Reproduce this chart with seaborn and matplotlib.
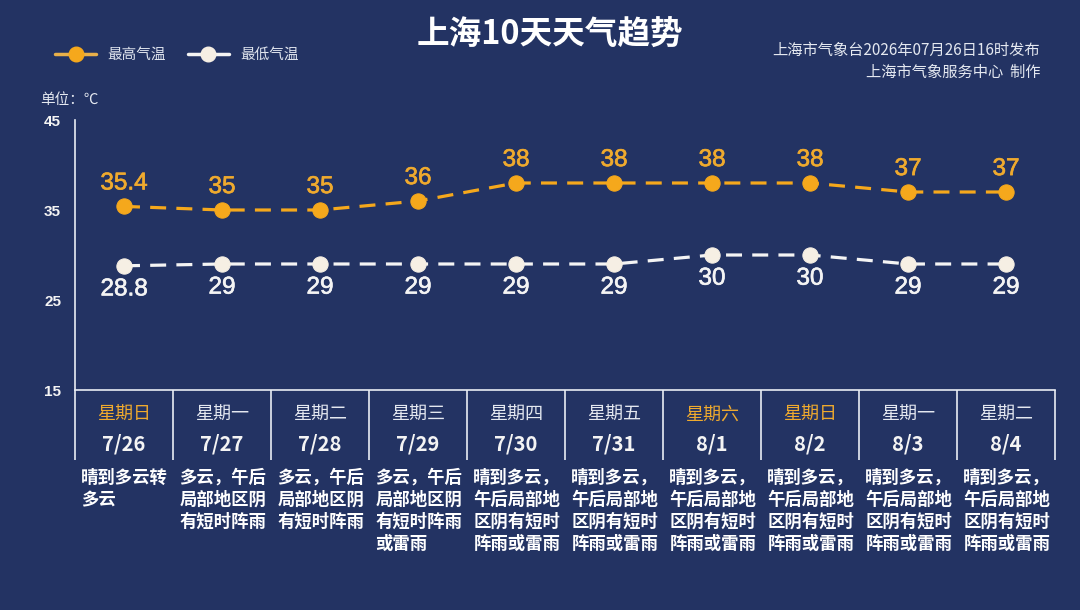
import matplotlib
matplotlib.use("Agg")
import matplotlib.pyplot as plt
import matplotlib.patheffects as pe
from matplotlib.lines import Line2D
import seaborn as sns
import pandas as pd

# ---- data ----
dates = ["7/26", "7/27", "7/28", "7/29", "7/30", "7/31", "8/1", "8/2", "8/3", "8/4"]
weekdays = ["星期日", "星期一", "星期二", "星期三", "星期四", "星期五", "星期六", "星期日", "星期一", "星期二"]
high_temps = [35.4, 35, 35, 36, 38, 38, 38, 38, 37, 37]
low_temps = [28.8, 29, 29, 29, 29, 29, 30, 30, 29, 29]
weather = [
    "晴到多云转多云",
    "多云，午后局部地区阴有短时阵雨",
    "多云，午后局部地区阴有短时阵雨",
    "多云，午后局部地区阴有短时阵雨或雷雨",
    "晴到多云，午后局部地区阴有短时阵雨或雷雨",
    "晴到多云，午后局部地区阴有短时阵雨或雷雨",
    "晴到多云，午后局部地区阴有短时阵雨或雷雨",
    "晴到多云，午后局部地区阴有短时阵雨或雷雨",
    "晴到多云，午后局部地区阴有短时阵雨或雷雨",
    "晴到多云，午后局部地区阴有短时阵雨或雷雨",
]
y_ticks = [15, 25, 35, 45]
title = "上海10天天气趋势"
source_lines = ["上海市气象台2026年07月26日16时发布", "上海市气象服务中心  制作"]
unit_label = "单位：℃"
legend_labels = ["最高气温", "最低气温"]

# ---- style ----
BG = "#233363"
ORANGE = "#F5A81C"
ORANGE_TXT = "#EFAA2E"
CREAM = "#F6EFE4"
WHITE = "#F4F4F4"
LINEC = "#E8ECF4"

sns.set_theme(style="white")
plt.rcParams["font.family"] = ["Noto Sans CJK SC", "DejaVu Sans"]
plt.rcParams["axes.unicode_minus"] = False

fig = plt.figure(figsize=(10.8, 6.1), dpi=100, facecolor=BG)
ax = fig.add_axes([75 / 1080, 1 - 390 / 610, 980 / 1080, 270 / 610])
ax.set_facecolor(BG)

df = pd.DataFrame({"idx": range(len(dates)), "high": high_temps, "low": low_temps})

sns.lineplot(data=df, x="idx", y="high", ax=ax, color=ORANGE, linewidth=2.3,
             marker="o", markersize=11, markerfacecolor=ORANGE, markeredgecolor=ORANGE,
             zorder=3)
sns.lineplot(data=df, x="idx", y="low", ax=ax, color=WHITE, linewidth=2.3,
             marker="o", markersize=11, markerfacecolor=CREAM, markeredgecolor=CREAM,
             zorder=3)
for ln in ax.lines:
    ln.set_dashes((5, 3.2))

ax.set_xlim(-0.5, len(dates) - 0.5)
ax.set_ylim(15, 45)
ax.set_yticks(y_ticks)
ax.set_xticks([])
ax.set_xlabel("")
ax.set_ylabel("")
for s in ["top", "right"]:
    ax.spines[s].set_visible(False)
for s in ["left", "bottom"]:
    ax.spines[s].set_visible(True)
    ax.spines[s].set_color(LINEC)
    ax.spines[s].set_linewidth(1.2)
ax.tick_params(axis="y", direction="out", length=6.5, width=1.2, color=LINEC, pad=3.5,
               labelcolor=WHITE, labelsize=11)
for lab in ax.get_yticklabels():
    lab.set_fontfamily(["Liberation Sans", "DejaVu Sans"])
    lab.set_fontweight("bold")

# value labels
def fmt(v):
    return f"{v:g}"

for i, (h, l) in enumerate(zip(high_temps, low_temps)):
    ax.annotate(fmt(h), (i, h), xytext=(0, 16.5), textcoords="offset points",
                ha="center", va="center", fontsize=17.5, color=ORANGE_TXT,
                family=["Liberation Sans", "DejaVu Sans"],
                path_effects=[pe.withStroke(linewidth=0.45, foreground=ORANGE_TXT)])
    ax.annotate(fmt(l), (i, l), xytext=(0, -17), textcoords="offset points",
                ha="center", va="center", fontsize=17.5, color=WHITE,
                family=["Liberation Sans", "DejaVu Sans"],
                path_effects=[pe.withStroke(linewidth=0.45, foreground=WHITE)])

# table below the chart
tr = ax.get_xaxis_transform()
tbl_bottom = -70 / 270
ax.vlines([i - 0.5 for i in range(len(dates) + 1)], tbl_bottom, 0, transform=tr,
          colors=LINEC, linewidth=1.2, clip_on=False)
for i, (wd, d, w) in enumerate(zip(weekdays, dates, weather)):
    wcol = ORANGE_TXT if wd in ("星期六", "星期日") else "#E4E8F0"
    ax.text(i, (390 - 415) / 270, wd, transform=tr, ha="center", va="center",
            fontsize=13, color=wcol, clip_on=False)
    ax.text(i, (390 - 444) / 270, d, transform=tr, ha="center", va="center",
            fontsize=14.5, color=WHITE, fontweight="bold", clip_on=False)
    chunks = [w[k:k + 5] for k in range(0, len(w), 5)]
    for j, c in enumerate(chunks):
        ax.text(i - 0.5 + 0.065, (390 - (478 + 22 * j)) / 270, c, transform=tr,
                ha="left", va="center", fontsize=12.5, color="white",
                fontweight="bold", clip_on=False)

# header texts
fig.text(550 / 1080, 1 - 35 / 610, title, ha="center", va="center", fontsize=23.5,
         fontweight="bold", color="white")
fig.text(1040 / 1080, 1 - 50 / 610, source_lines[0], ha="right", va="center",
         fontsize=11, color="#E4E8F0")
fig.text(1040 / 1080, 1 - 72 / 610, source_lines[1], ha="right", va="center",
         fontsize=11, color="#E4E8F0")
fig.text(40 / 1080, 1 - 100 / 610, unit_label, ha="left", va="center",
         fontsize=10.5, color="#E4E8F0")

handles = [
    Line2D([], [], color="#E8B04A", linewidth=2.5, marker="o", markersize=10.5,
           markerfacecolor=ORANGE, markeredgecolor=ORANGE),
    Line2D([], [], color=WHITE, linewidth=2.5, marker="o", markersize=10.5,
           markerfacecolor=CREAM, markeredgecolor=CREAM),
]
leg = fig.legend(handles, legend_labels, loc="center left",
                 bbox_to_anchor=(42 / 1080, 1 - 55 / 610), ncol=2, frameon=False,
                 fontsize=10.5, handlelength=2.8, columnspacing=1.5, handletextpad=0.8)
for t in leg.get_texts():
    t.set_color("#E0E5EE")

fig.savefig("out.png", dpi=100, facecolor=BG)
